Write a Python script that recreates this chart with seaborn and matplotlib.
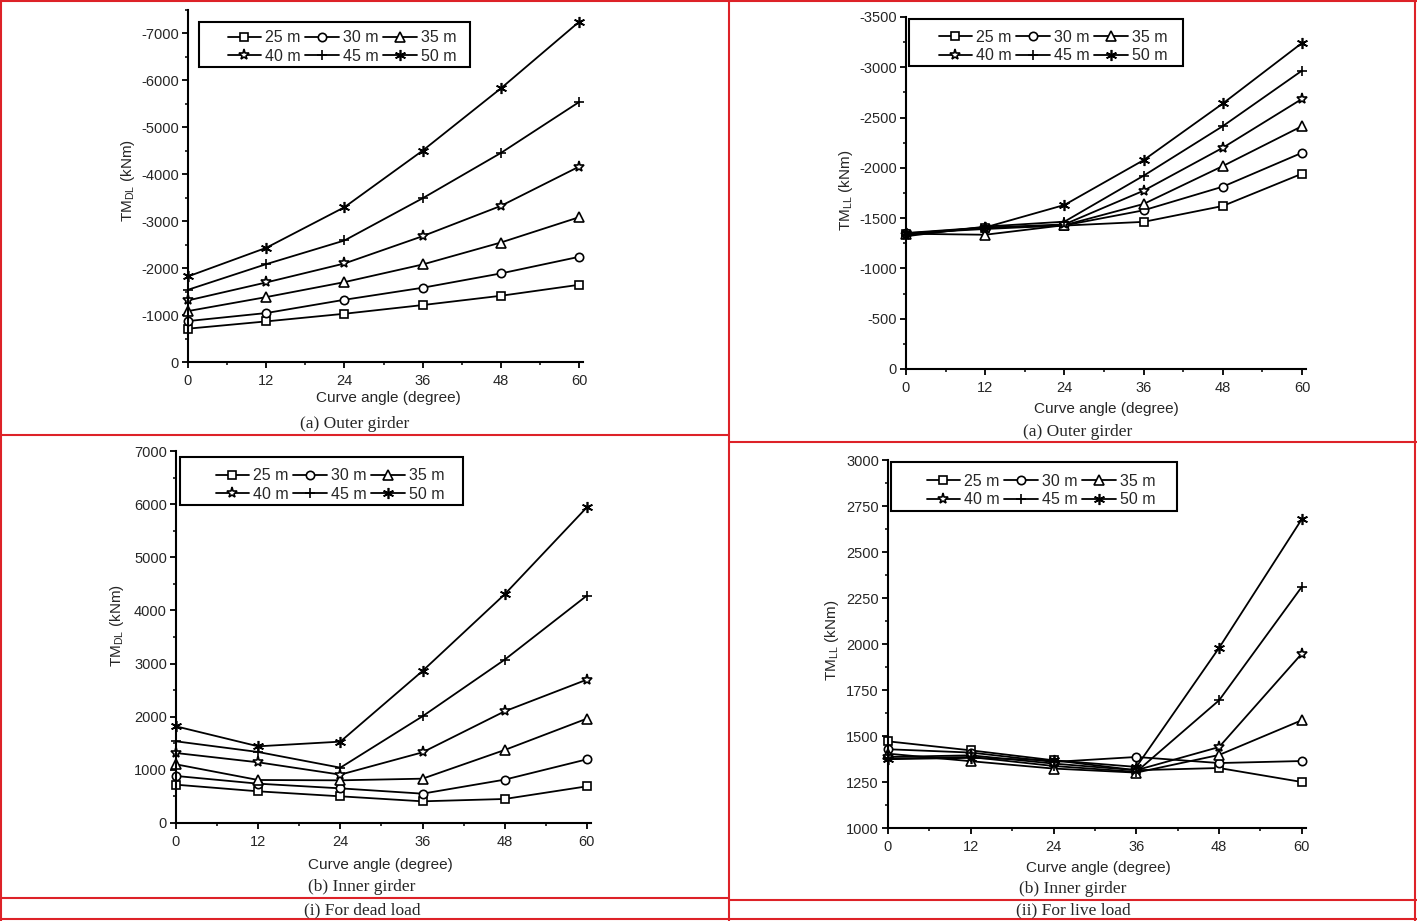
"""
Torsional moment vs curve angle, four panels (outer / inner girder, dead / live load).
"""

import matplotlib.pyplot as plt
import matplotlib.transforms as mtransforms
from matplotlib.lines import Line2D
from matplotlib.patches import Rectangle
from matplotlib.ticker import AutoMinorLocator
import seaborn as sns

angles = [0, 12, 24, 36, 48, 60]
spans = ["25 m", "30 m", "35 m", "40 m", "45 m", "50 m"]

# (i) dead load, outer girder (kNm)
outer_dl = [
    [-710, -865, -1028, -1213, -1411, -1645],
    [-872, -1043, -1326, -1582, -1887, -2241],
    [-1085, -1383, -1702, -2078, -2546, -3085],
    [-1312, -1695, -2099, -2681, -3326, -4163],
    [-1539, -2085, -2589, -3489, -4454, -5539],
    [-1823, -2433, -3298, -4504, -5830, -7248],
]
# (ii) live load, outer girder
outer_ll = [
    [-1345, -1406, -1426, -1463, -1621, -1942],
    [-1350, -1392, -1428, -1578, -1813, -2150],
    [-1345, -1335, -1430, -1641, -2018, -2415],
    [-1335, -1405, -1438, -1773, -2200, -2686],
    [-1320, -1416, -1465, -1922, -2415, -2967],
    [-1352, -1408, -1631, -2077, -2640, -3242],
]
# (i) dead load, inner girder
inner_dl = [
    [721, 596, 502, 408, 452, 690],
    [885, 740, 652, 552, 816, 1198],
    [1104, 809, 803, 834, 1374, 1964],
    [1317, 1142, 910, 1330, 2102, 2698],
    [1537, 1336, 1041, 2008, 3074, 4279],
    [1819, 1443, 1531, 2861, 4304, 5941],
]
# (ii) live load, inner girder
inner_ll = [
    [1471, 1422, 1368, 1314, 1326, 1250],
    [1428, 1410, 1359, 1386, 1353, 1364],
    [1404, 1363, 1323, 1301, 1397, 1586],
    [1386, 1395, 1350, 1314, 1440, 1948],
    [1377, 1386, 1337, 1305, 1694, 2311],
    [1374, 1381, 1368, 1332, 1979, 2679],
]

marqueurs = ["s", "o", "^", "*", "+", (6, 2, 0)]
tailles = [5.5, 6, 6.5, 8, 6.5, 8]

W, H = 1417, 921
ROUGE = "#dd2228"

sns.set_style("ticks")
plt.rcParams["font.family"] = ["Liberation Sans", "DejaVu Sans"]
plt.rcParams["mathtext.default"] = "regular"
plt.rcParams["axes.unicode_minus"] = False

fig = plt.figure(figsize=(W / 100, H / 100), dpi=100)
fig.patch.set_facecolor("white")
px = mtransforms.Affine2D().scale(1 / W, -1 / H).translate(0, 1) + fig.transFigure


def tracer_panneau(valeurs, rect, ylim, yticks, ylabel, label_pos, legende, boite):
    left, top, right, bottom = rect
    ax = fig.add_axes([left / W, 1 - bottom / H, (right - left) / W, (bottom - top) / H])
    for span, serie, m, t in zip(spans, valeurs, marqueurs, tailles):
        sns.lineplot(
            x=angles, y=serie, ax=ax, color="black", lw=1.3, label=span,
            marker=m, markersize=t, markerfacecolor="white",
            markeredgecolor="black", markeredgewidth=1.2, clip_on=False,
        )
    ax.set_xlim(0, 60.6)
    ax.set_ylim(*ylim)
    ax.set_xticks(angles)
    ax.set_yticks(yticks)
    ax.xaxis.set_minor_locator(AutoMinorLocator(2))
    ax.yaxis.set_minor_locator(AutoMinorLocator(2))
    ax.tick_params(which="major", direction="out", length=4, width=1.3, labelsize=10.5, color="black")
    ax.tick_params(which="minor", direction="out", length=2.5, width=1.1, color="black")
    ax.tick_params(axis="x", pad=4.5)
    ax.tick_params(axis="y", pad=2.5)
    sns.despine(ax=ax)
    for s in ("left", "bottom"):
        ax.spines[s].set_linewidth(1.5)
        ax.spines[s].set_color("black")

    ax.set_xlabel("Curve angle (degree)", fontsize=11, va="center")
    ax.set_ylabel(ylabel, fontsize=11, va="center")
    (xl_x, xl_y), (yl_x, yl_y) = label_pos
    ax.xaxis.set_label_coords(xl_x, xl_y, transform=px)
    ax.yaxis.set_label_coords(yl_x, yl_y, transform=px)

    poignees, etiquettes = ax.get_legend_handles_labels()
    ordre = [0, 3, 1, 4, 2, 5]
    ax.legend(
        [poignees[i] for i in ordre], [etiquettes[i] for i in ordre],
        loc="center", bbox_to_anchor=legende, bbox_transform=px, frameon=False,
        ncol=3, fontsize=11.5, handlelength=2.1, handletextpad=0.25,
        columnspacing=0.3, labelspacing=0.2, borderpad=0, numpoints=1,
    )
    bx0, by0, bx1, by1 = boite
    fig.add_artist(Rectangle((bx0, by0), bx1 - bx0, by1 - by0, transform=px,
                             fill=False, edgecolor="black", lw=1.5))
    return ax


tracer_panneau(outer_dl, (188, 10, 583, 362), (0, -7500), list(range(0, -7001, -1000)),
               "TM$_{DL}$ (kNm)", ((388, 398), (128, 180)), (342, 47), (199, 22, 470, 67))
tracer_panneau(outer_ll, (906, 17, 1306, 369), (0, -3500), list(range(0, -3501, -500)),
               "TM$_{LL}$ (kNm)", ((1106, 409), (846, 190)), (1053, 46.5), (909, 19, 1183, 66))
tracer_panneau(inner_dl, (176, 451, 591, 823), (0, 7000), list(range(0, 7001, 1000)),
               "TM$_{DL}$ (kNm)", ((380, 865), (117, 625)), (330, 485), (180, 457, 463, 505))
tracer_panneau(inner_ll, (888, 460, 1306, 828), (1000, 3000), list(range(1000, 3001, 250)),
               "TM$_{LL}$ (kNm)", ((1098, 868), (832, 640)), (1041, 490.5), (891, 462, 1177, 511))

legendes = [
    ("(a) Outer girder", 355, 424),
    ("(a) Outer girder", 1078, 432),
    ("(b) Inner girder", 362, 887),
    ("(i) For dead load", 362, 910),
    ("(b) Inner girder", 1073, 889),
    ("(ii) For live load", 1073, 910),
]
for texte, x, y in legendes:
    fig.text(x, y, texte, transform=px, ha="center", va="center",
             fontsize=12.5, family=["Liberation Serif", "DejaVu Serif"])

traits = [
    ((0, W), (1, 1)), ((0, W), (919, 919)), ((1, 1), (0, H)), ((1415, 1415), (0, H)),
    ((729, 729), (0, H)), ((0, 729), (435, 435)), ((729, W), (442, 442)),
    ((0, 729), (898, 898)), ((729, W), (900, 900)),
]
for xs, ys in traits:
    fig.add_artist(Line2D(xs, ys, transform=px, color=ROUGE, lw=1.5))

fig.savefig("out.png", dpi=100, facecolor="white")
plt.close(fig)
